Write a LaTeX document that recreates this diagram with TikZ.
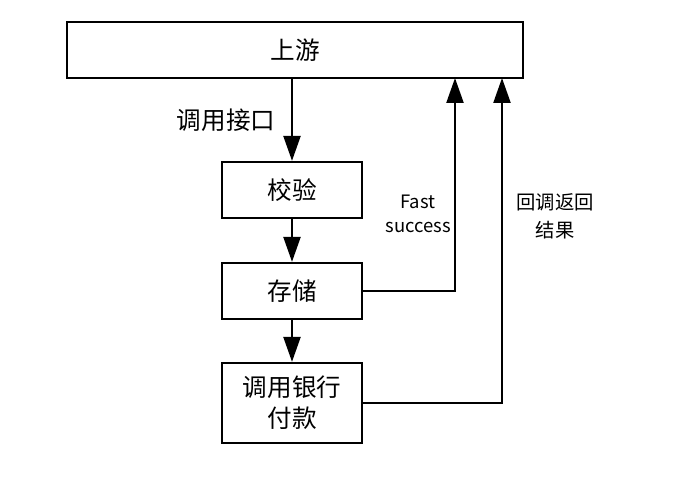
\documentclass[tikz,border=0pt]{standalone}
\usepackage{fontspec}
\setmainfont{Noto Sans CJK SC}
\usetikzlibrary{arrows.meta, positioning}
\tikzstyle{block} = [rectangle, draw=black, line width=1.3pt, fill=white,
                     minimum width=2.8cm, minimum height=1.12cm, text centered,
                     font=\fontsize{14}{18}\selectfont, inner sep=0pt]
\tikzstyle{arrow} = [-{Triangle[length=5mm, width=3.4mm]}, line width=1.3pt]
\tikzstyle{label} = [align=center, font=\fontsize{10.5}{14}\selectfont]

\begin{document}
\begin{tikzpicture}[x=0.02cm, y=-0.02cm]
\useasboundingbox (0,0) rectangle (676,480);

% Upstream
\node[block, minimum width=9.12cm] (up) at (295,50) {上游};

% Steps
\node[block] (check) at (292,190) {校验};
\node[block] (store) at (292,291) {存储};
\node[block, minimum height=1.6cm, align=center,
      font=\fontsize{14}{17.5}\selectfont] (pay) at (292,403) {调用银行\\付款};

% Return points
\coordinate (fastTop) at (455,78);
\coordinate (cbTop) at (502,78);

% Arrows
\draw[arrow] (up.south -| check) -- (check);
\draw[arrow] (check) -- (store);
\draw[arrow] (store) -- (pay);
\draw[arrow] (store.east) -| (fastTop);
\draw[arrow] (pay.east) -| (cbTop);

% Labels
\node[label, font=\fontsize{14}{18}\selectfont] (callLbl) at (226,120) {调用接口};
\node[label, font=\fontsize{10.5}{14}\selectfont] (fastLbl) at (418,214) {Fast\\success};
\node[label, font=\fontsize{11}{16}\selectfont] (cbLbl) at (555,216) {回调返回\\结果};

\end{tikzpicture}
\end{document}
